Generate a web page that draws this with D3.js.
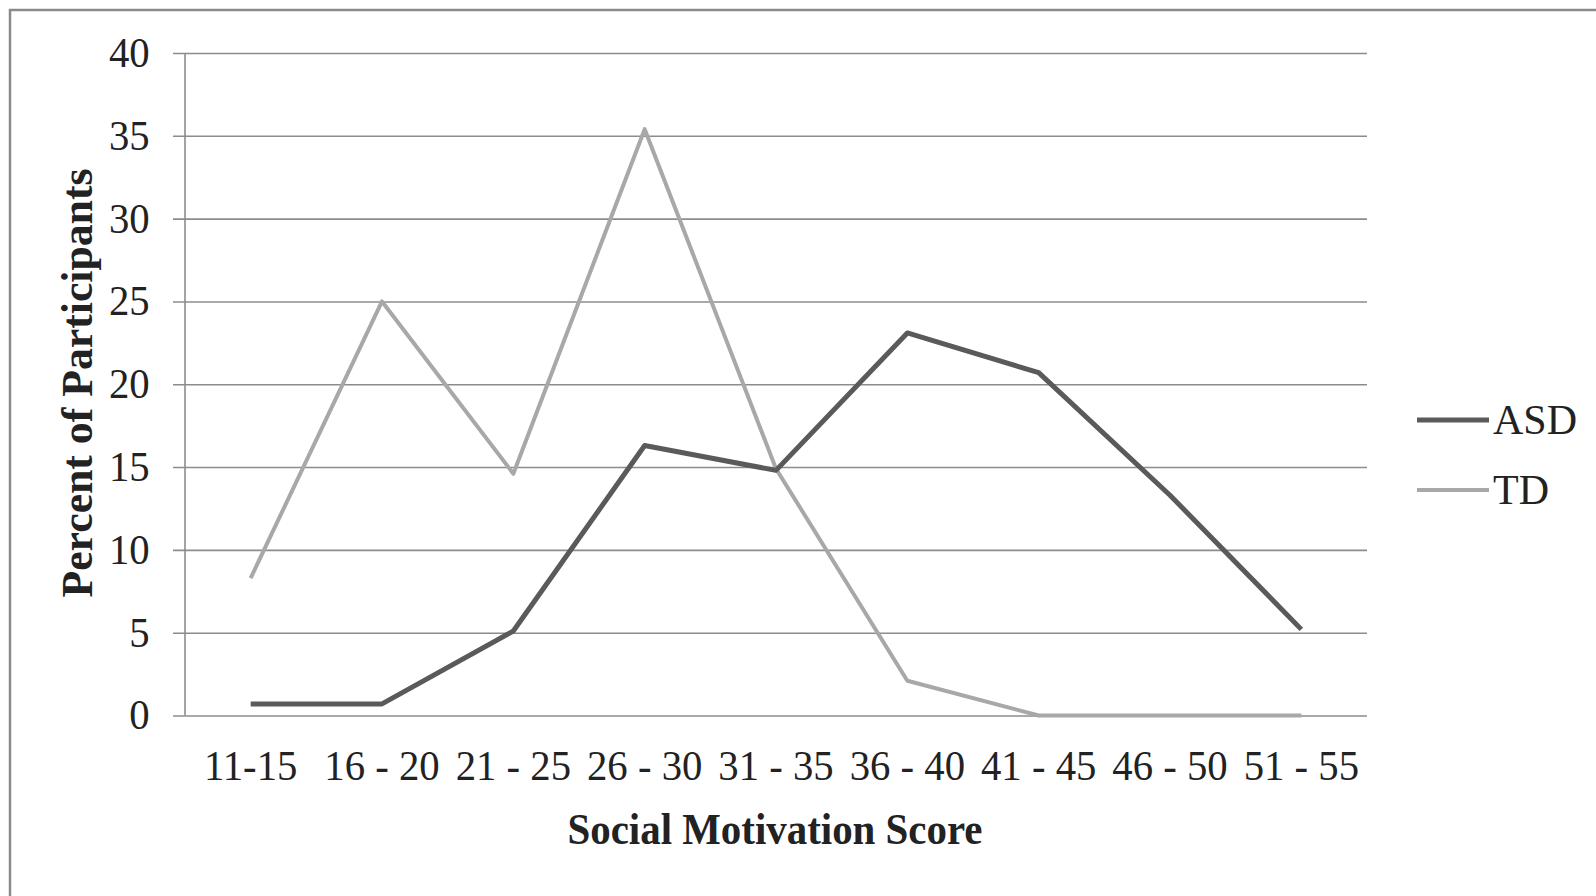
<!DOCTYPE html>
<html>
<head>
<meta charset="utf-8">
<script src="https://cdn.jsdelivr.net/npm/d3@7"></script>
<style>
  html, body { margin: 0; padding: 0; background: #fff; }
  svg { display: block; }
  text { font-family: "Liberation Serif", "Times New Roman", serif; fill: #222; }
</style>
</head>
<body>
<svg id="chart" width="1596" height="896"></svg>
<script>
const categories = ["11-15", "16 - 20", "21 - 25", "26 - 30", "31 - 35", "36 - 40", "41 - 45", "46 - 50", "51 - 55"];
const asdValues = [0.7, 0.7, 5.1, 16.3, 14.8, 23.1, 20.7, 13.3, 5.2];
const tdValues  = [8.3, 25.0, 14.6, 35.4, 14.9, 2.1, 0, 0, 0];
const yTicks = [0, 5, 10, 15, 20, 25, 30, 35, 40];
const seriesNames = ["ASD", "TD"];
const seriesColors = ["#5a5a5a", "#a8a8a8"];

const svg = d3.select("#chart");
const sx = 0.97; // horizontal condensation of the tick text

// outer border
svg.append("rect").attr("x", 10).attr("y", 10).attr("width", 1620).attr("height", 920)
  .attr("fill", "#fff").attr("stroke", "#8a8a8a").attr("stroke-width", 2.5);

const plotLeft = 185, plotRight = 1367, plotTop = 53, plotBottom = 715.5;
const x = d3.scaleBand().domain(categories).range([plotLeft, plotRight]).padding(0);
const y = d3.scaleLinear().domain([0, 40]).range([plotBottom, plotTop]);

// y axis with gridlines
const yAxis = d3.axisLeft(y).tickValues(yTicks).tickSizeInner(-(plotRight - 173)).tickSizeOuter(0).tickPadding(23);
const gy = svg.append("g").attr("transform", `translate(173,0)`).call(yAxis);
gy.select(".domain").remove();
gy.selectAll(".tick line").attr("stroke", "#8c8c8c").attr("stroke-width", 1.6);
gy.selectAll(".tick text").attr("font-size", 42).attr("fill", "#222")
  .attr("transform", `translate(-1,0) scale(${sx},1)`)
  .style("font-family", "'Liberation Serif', serif");

// vertical axis line
svg.append("line").attr("x1", plotLeft).attr("x2", plotLeft).attr("y1", plotTop).attr("y2", plotBottom)
  .attr("stroke", "#8c8c8c").attr("stroke-width", 1.6);

// x axis labels
const xAxis = d3.axisBottom(x).tickSize(0).tickPadding(35);
const gx = svg.append("g").attr("transform", `translate(0,${plotBottom})`).call(xAxis);
gx.select(".domain").remove();
gx.selectAll(".tick text").attr("font-size", 42).attr("fill", "#222")
  .attr("transform", `scale(${sx},1)`)
  .style("font-family", "'Liberation Serif', serif");

// lines (TD drawn first, ASD on top)
const line = d3.line().x((d, i) => x(categories[i]) + x.bandwidth() / 2).y(d => y(d));
const series = [asdValues, tdValues];
[1, 0].forEach(k => {
  svg.append("path").datum(series[k]).attr("d", line)
    .attr("fill", "none").attr("stroke", seriesColors[k])
    .attr("stroke-width", k === 0 ? 5 : 4)
    .attr("stroke-linejoin", "round").attr("stroke-linecap", "butt");
});

// axis titles
svg.append("text").attr("x", 775).attr("y", 844).attr("text-anchor", "middle")
  .attr("font-size", 44).attr("font-weight", "bold")
  .attr("textLength", 415).attr("lengthAdjust", "spacingAndGlyphs")
  .text("Social Motivation Score");

svg.append("text").attr("transform", "translate(92,383) rotate(-90)").attr("text-anchor", "middle")
  .attr("font-size", 44).attr("font-weight", "bold")
  .attr("textLength", 429).attr("lengthAdjust", "spacingAndGlyphs")
  .text("Percent of Participants");

// legend
const legendY = [420, 490];
seriesNames.forEach((n, i) => {
  svg.append("line").attr("x1", 1417).attr("x2", 1489).attr("y1", legendY[i]).attr("y2", legendY[i])
    .attr("stroke", seriesColors[i]).attr("stroke-width", i === 0 ? 5 : 4);
  svg.append("text").attr("transform", `translate(1493,${legendY[i] + 14})`)
    .attr("font-size", 42).text(n);
});
</script>
</body>
</html>
